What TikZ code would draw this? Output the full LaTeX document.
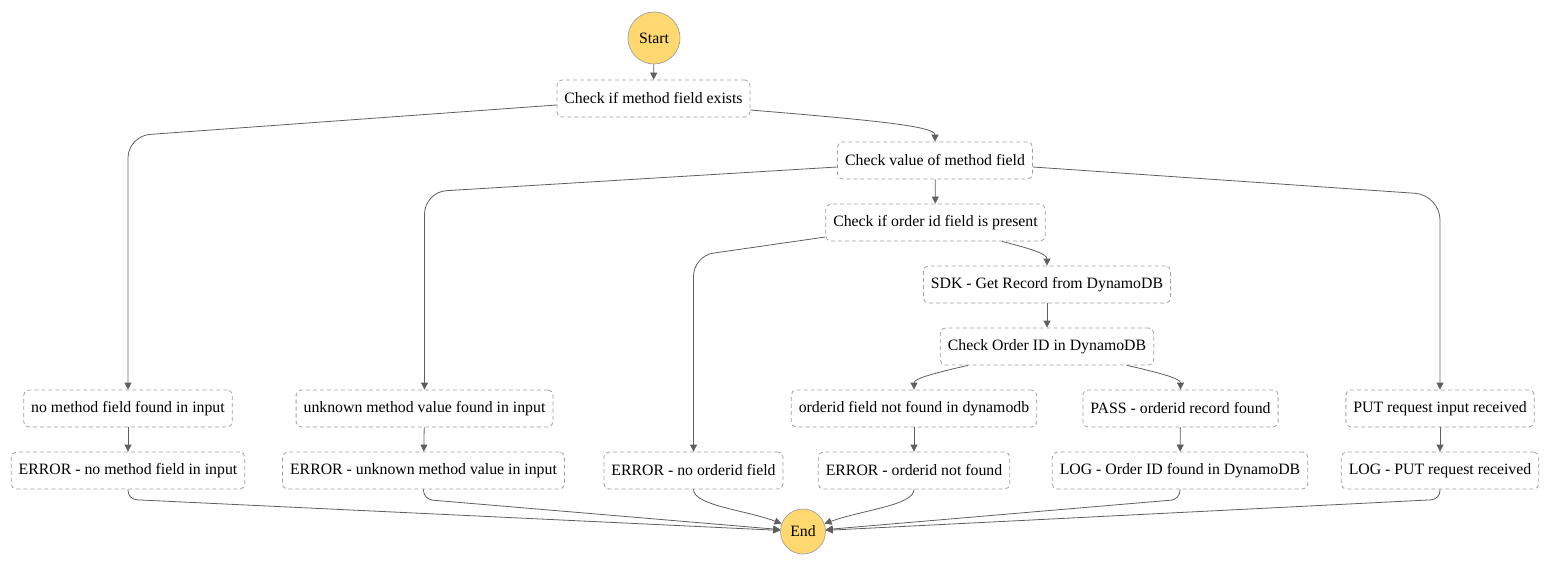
\documentclass[tikz,border=0pt]{standalone}
\usepackage{fontspec}
\setmainfont{Liberation Serif}
\newfontfamily\timesfont{Liberation Serif}
\usetikzlibrary{arrows.meta}
\definecolor{stateyellow}{HTML}{FFD970}
\definecolor{boxgrey}{HTML}{A0A0A0}
\definecolor{edgegrey}{HTML}{5F5F5F}
\begin{document}
\begin{tikzpicture}[x=1pt,y=-1pt,
  state/.style={draw=boxgrey, dash pattern=on 4pt off 3pt, rounded corners=5pt, fill=white,
    minimum height=37pt, inner xsep=7.5pt, inner ysep=0pt,
    font=\timesfont\fontsize{15.8}{19}\selectfont, line width=0.8pt},
  term/.style={circle, draw=boxgrey, fill=stateyellow, inner sep=0pt,
    font=\timesfont\fontsize{15.8}{19}\selectfont, line width=0.7pt},
  edge/.style={draw=edgegrey, line width=0.8pt, -{Triangle[length=7pt,width=7pt]}},
]
\useasboundingbox (0,0) rectangle (1551,567);

% nodes
\node[term, minimum size=52pt] (start) at (654,38) {Start};
\node[state] (exists) at (653.5,98.5) {Check if method field exists};
\node[state] (value) at (935,160.5) {Check value of method field};
\node[state] (orderid) at (935.5,222.5) {Check if order id field is present};
\node[state] (sdk) at (1047,284.5) {SDK - Get Record from DynamoDB};
\node[state] (checkid) at (1047,346.5) {Check Order ID in DynamoDB};

\node[state] (nomethod) at (128,408.5) {no method field found in input};
\node[state] (unknown) at (424.5,408.5) {unknown method value found in input};
\node[state] (notfound) at (914,408.5) {orderid field not found in dynamodb};
\node[state] (pass) at (1180.5,408.5) {PASS - orderid record found};
\node[state] (put) at (1440,408.5) {PUT request input received};

\node[state] (errnomethod) at (128,470.5) {ERROR - no method field in input};
\node[state] (errunknown) at (423.5,470.5) {ERROR - unknown method value in input};
\node[state] (errnoorder) at (693.5,470.5) {ERROR - no orderid field};
\node[state] (errnotfound) at (914,470.5) {ERROR - orderid not found};
\node[state] (logfound) at (1180,470.5) {LOG - Order ID found in DynamoDB};
\node[state] (logput) at (1440,470.5) {LOG - PUT request received};

\node[term, minimum size=45pt] (end) at (803,531.5) {End};

% edges
\draw[edge] (start) -- (exists);
\draw[edge, rounded corners=22pt] ([yshift=-6.5pt]exists.west) -- (nomethod.north |- 0,136) -- (nomethod.north);
\draw[edge] ([yshift=-11.5pt]exists.east) .. controls (870,120) and (value.north |- 0,126) .. (value.north);
\draw[edge, rounded corners=22pt] ([yshift=-6.5pt]value.west) -- (unknown.north |- 0,192) -- (unknown.north);
\draw[edge] (value) -- (orderid);
\draw[edge, rounded corners=25pt] ([yshift=-6.5pt]value.east) -- (put.north |- 0,195) -- (put.north);
\draw[edge, rounded corners=20pt] ([yshift=-14.5pt]orderid.west) -- (errnoorder.north |- 0,256) -- (errnoorder.north);
\draw[edge] ([xshift=66.5pt]orderid.south) .. controls (1032,249) and (sdk.north |- 0,254) .. (sdk.north);
\draw[edge] (sdk) -- (checkid);
\draw[edge] ([xshift=-79pt]checkid.south) .. controls (930,374) and (notfound.north |- 0,379) .. (notfound.north);
\draw[edge] ([xshift=80pt]checkid.south) .. controls (1165,374) and (pass.north |- 0,379) .. (pass.north);

\draw[edge] (nomethod) -- (errnomethod);
\draw[edge] (unknown) -- (errunknown);
\draw[edge] (notfound) -- (errnotfound);
\draw[edge] (pass) -- (logfound);
\draw[edge] (put) -- (logput);

\draw[edge, rounded corners=9pt] (errnomethod.south) -- ++(0,10) -- (end);
\draw[edge, rounded corners=9pt] (errunknown.south) -- ++(0,10) -- (end);
\draw[edge] (errnoorder.south) .. controls +(0,16) and (745,510) .. (end);
\draw[edge] (errnotfound.south) .. controls +(0,16) and (862,510) .. (end);
\draw[edge, rounded corners=9pt] (logfound.south) -- ++(0,10) -- (end);
\draw[edge, rounded corners=9pt] (logput.south) -- ++(0,10) -- (end);
\end{tikzpicture}
\end{document}
